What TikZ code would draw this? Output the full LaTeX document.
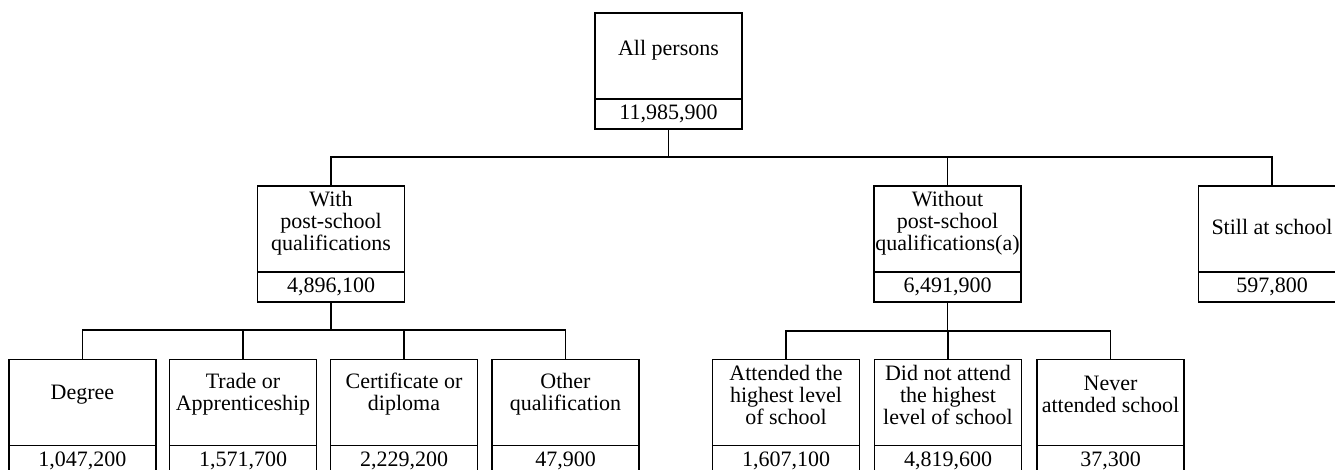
\documentclass[tikz,border=0pt]{standalone}
\usepackage{fontspec}
\setmainfont{Liberation Serif}
\usetikzlibrary{positioning}
\begin{document}
\begin{tikzpicture}[x=0.5pt, y=-0.5pt, line width=0.8pt,
		cell/.style={draw, minimum width=73.5pt, minimum height=43pt, inner sep=0pt, outer sep=0pt},
		count/.style={draw, minimum width=73.5pt, minimum height=15pt, inner sep=0pt, outer sep=0pt, anchor=north, font=\fontsize{11}{11}\selectfont},
		lbl/.style={align=center, inner sep=0pt, font=\fontsize{11}{11}\selectfont}]
		\clip (0,0) rectangle (1335,470);
		\useasboundingbox (0,0) rectangle (1335,470);
		
		% top
		\node[cell] (all) at (668.5,56) {};
		\node[count] (allN) at (all.south) {11,985,900};
		\node[lbl] at ([yshift=3pt]all.center) {All persons};
		
		% second row
		\node[cell] (with) at (331,229) {};
		\node[count] (withN) at (with.south) {4,896,100};
		\node[lbl] at ([yshift=3pt]with.center) {With\\post-school\\qualifications};
		\node[cell] (wo) at (947.5,229) {};
		\node[count] (woN) at (wo.south) {6,491,900};
		\node[lbl] at ([yshift=3pt]wo.center) {Without\\post-school\\qualifications(a)};
		\node[cell] (still) at (1272,229) {};
		\node[count] (stillN) at (still.south) {597,800};
		\node[lbl] at ([yshift=1pt]still.center) {Still at school};
		
		% third row
		\node[cell] (deg) at (82.5,402.5) {};
		\node[count] (degN) at (deg.south) {1,047,200};
		\node[lbl] at ([yshift=4pt]deg.center) {Degree};
		\node[cell] (trd) at (243,402.5) {};
		\node[count] (trdN) at (trd.south) {1,571,700};
		\node[lbl] at ([yshift=4pt]trd.center) {Trade or\\Apprenticeship};
		\node[cell] (cert) at (404,402.5) {};
		\node[count] (certN) at (cert.south) {2,229,200};
		\node[lbl] at ([yshift=4pt]cert.center) {Certificate or\\diploma};
		\node[cell] (oth) at (565.5,402.5) {};
		\node[count] (othN) at (oth.south) {47,900};
		\node[lbl] at ([yshift=4pt]oth.center) {Other\\qualification};
		\node[cell] (att) at (786,402.5) {};
		\node[count] (attN) at (att.south) {1,607,100};
		\node[lbl] at ([yshift=4pt]att.center) {Attended the\\highest level\\of school};
		\node[cell] (dna) at (948,402.5) {};
		\node[count] (dnaN) at (dna.south) {4,819,600};
		\node[lbl] at ([yshift=4pt]dna.center) {Did not attend\\the highest\\level of school};
		\node[cell] (nev) at (1110.5,402.5) {};
		\node[count] (nevN) at (nev.south) {37,300};
		\node[lbl] at ([yshift=4pt]nev.center) {Never\\attended school};
		
		% connectors
		\coordinate (topbar) at (668.5,157);
		\draw (allN) -- (topbar);
		\draw (with.north) |- (topbar) -| (still.north);
		\draw (wo.north) -- (wo.north |- topbar);
		
		\coordinate (withbar) at (331,330);
		\draw (withN) -- (withbar);
		\draw (deg.north) |- (withbar) -| (oth.north);
		\draw (trd.north) -- (trd.north |- withbar);
		\draw (cert.north) -- (cert.north |- withbar);
		
		\coordinate (wobar) at (947.5,331);
		\draw (woN) -- (wobar);
		\draw (att.north) |- (wobar) -| (nev.north);
		\draw (dna.north) -- (dna.north |- wobar);
\end{tikzpicture}
\end{document}
